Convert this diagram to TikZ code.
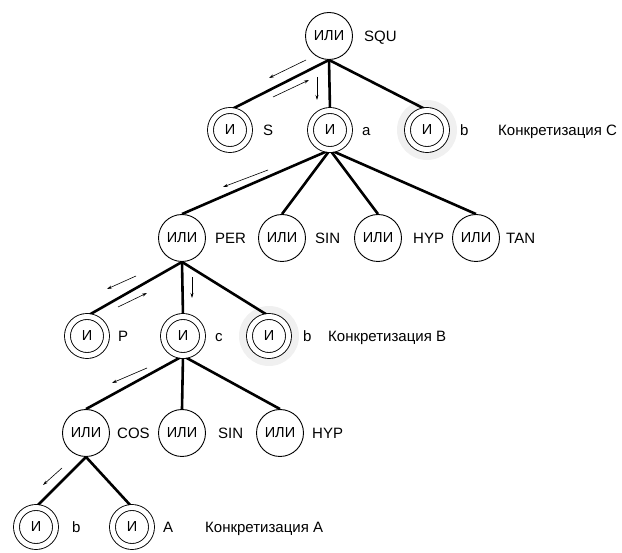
\documentclass[tikz,border=0pt]{standalone}
\usepackage{fontspec}
\setmainfont{Liberation Sans}
\usepackage{tikz}
\usetikzlibrary{arrows.meta,backgrounds}

\begin{document}
\begin{tikzpicture}[x=1pt,y=-1pt,
    ornode/.style={circle,draw,line width=0.9pt,fill=white,minimum size=47pt,inner sep=0pt,font=\fontsize{14.5}{14.5}\selectfont},
    andnode/.style={circle,draw,double,double distance=5pt,line width=0.9pt,fill=white,minimum size=39pt,inner sep=0pt,font=\fontsize{14.5}{14.5}\selectfont},
    edge/.style={line width=2.6pt},
    move/.style={-{Stealth[length=5pt,width=3pt]},line width=0.6pt},
    lbl/.style={anchor=west,inner sep=0pt,text height=10.5pt,text depth=0pt,font=\fontsize{15}{15}\selectfont},
    halo/.style={fill=black!6}]
  \useasboundingbox (0,0) rectangle (622,553);

  % draw nodes, top to bottom
  \node[ornode] (squ) at (329,36) {ИЛИ};
  \node[andnode] (s1) at (230,130) {И};
  \node[andnode] (a1) at (330,130) {И};
  \node[andnode] (b1) at (427,130) {И};

  \node[ornode] (per) at (182,238) {ИЛИ};
  \node[ornode] (sin1) at (282,238) {ИЛИ};
  \node[ornode] (hyp1) at (378,238) {ИЛИ};
  \node[ornode] (tan) at (476,238) {ИЛИ};

  \node[andnode] (p2) at (87,336) {И};
  \node[andnode] (c2) at (183,336) {И};
  \node[andnode] (b2) at (269,336) {И};

  \node[ornode] (cos) at (86,433) {ИЛИ};
  \node[ornode] (sin2) at (182,433) {ИЛИ};
  \node[ornode] (hyp2) at (280,433) {ИЛИ};

  \node[andnode] (b3) at (36,527) {И};
  \node[andnode] (a3) at (132,527) {И};

  % draw labels
  \node[lbl] (lsqu) at (364,36) {SQU};
  \node[lbl] (ls1) at (263,130) {S};
  \node[lbl] (la1) at (362,130) {a};
  \node[lbl] (lb1) at (460,130) {b};
  \node[lbl] (kc) at (498,130) {Конкретизация C};
  \node[lbl] (lper) at (215,238) {PER};
  \node[lbl] (lsin1) at (315,238) {SIN};
  \node[lbl] (lhyp1) at (413,238) {HYP};
  \node[lbl] (ltan) at (506,238) {TAN};
  \node[lbl] (lp2) at (118,336) {P};
  \node[lbl] (lc2) at (215,336) {c};
  \node[lbl] (lb2) at (303,336) {b};
  \node[lbl] (kb) at (328,336) {Конкретизация B};
  \node[lbl] (lcos) at (117,433) {COS};
  \node[lbl] (lsin2) at (218,433) {SIN};
  \node[lbl] (lhyp2) at (312,433) {HYP};
  \node[lbl] (lb3) at (72,527) {b};
  \node[lbl] (la3) at (163,527) {A};
  \node[lbl] (ka) at (205,527) {Конкретизация A};

  % draw tree edges
  \begin{scope}[on background layer]
    \fill[halo] (b1) circle (30);
    \fill[halo] (b2) circle (30);
    \draw[edge] (squ.south) -- (s1.north);
    \draw[edge] (squ.south) -- (a1.north);
    \draw[edge] (squ.south) -- (b1.north);
    \draw[edge] (a1.south) -- (per.north);
    \draw[edge] (a1.south) -- (sin1.north);
    \draw[edge] (a1.south) -- (hyp1.north);
    \draw[edge] (a1.south) -- (tan.north);
    \draw[edge] (per.south) -- (p2.north);
    \draw[edge] (per.south) -- (c2.north);
    \draw[edge] (per.south) -- (b2.north);
    \draw[edge] (c2.south) -- (cos.north);
    \draw[edge] (c2.south) -- (sin2.north);
    \draw[edge] (c2.south) -- (hyp2.north);
    \draw[edge] (cos.south) -- (b3.north);
    \draw[edge] (cos.south) -- (a3.north);
  \end{scope}

  % draw search moves
  \coordinate (m1a) at (306,60);  \coordinate (m1b) at (269,78);
  \coordinate (m2a) at (273,97);  \coordinate (m2b) at (309,80);
  \coordinate (m3a) at (317,77);  \coordinate (m3b) at (317,100);
  \coordinate (m4a) at (268,170); \coordinate (m4b) at (223,187);
  \coordinate (m5a) at (136,276); \coordinate (m5b) at (107,289);
  \coordinate (m6a) at (118,307); \coordinate (m6b) at (147,293);
  \coordinate (m7a) at (192,277); \coordinate (m7b) at (192,298);
  \coordinate (m8a) at (147,368); \coordinate (m8b) at (112,383);
  \coordinate (m9a) at (62,468);  \coordinate (m9b) at (43,485);
  \foreach \m in {1,...,9}
    \draw[move] (m\m a) -- (m\m b);
\end{tikzpicture}
\end{document}
